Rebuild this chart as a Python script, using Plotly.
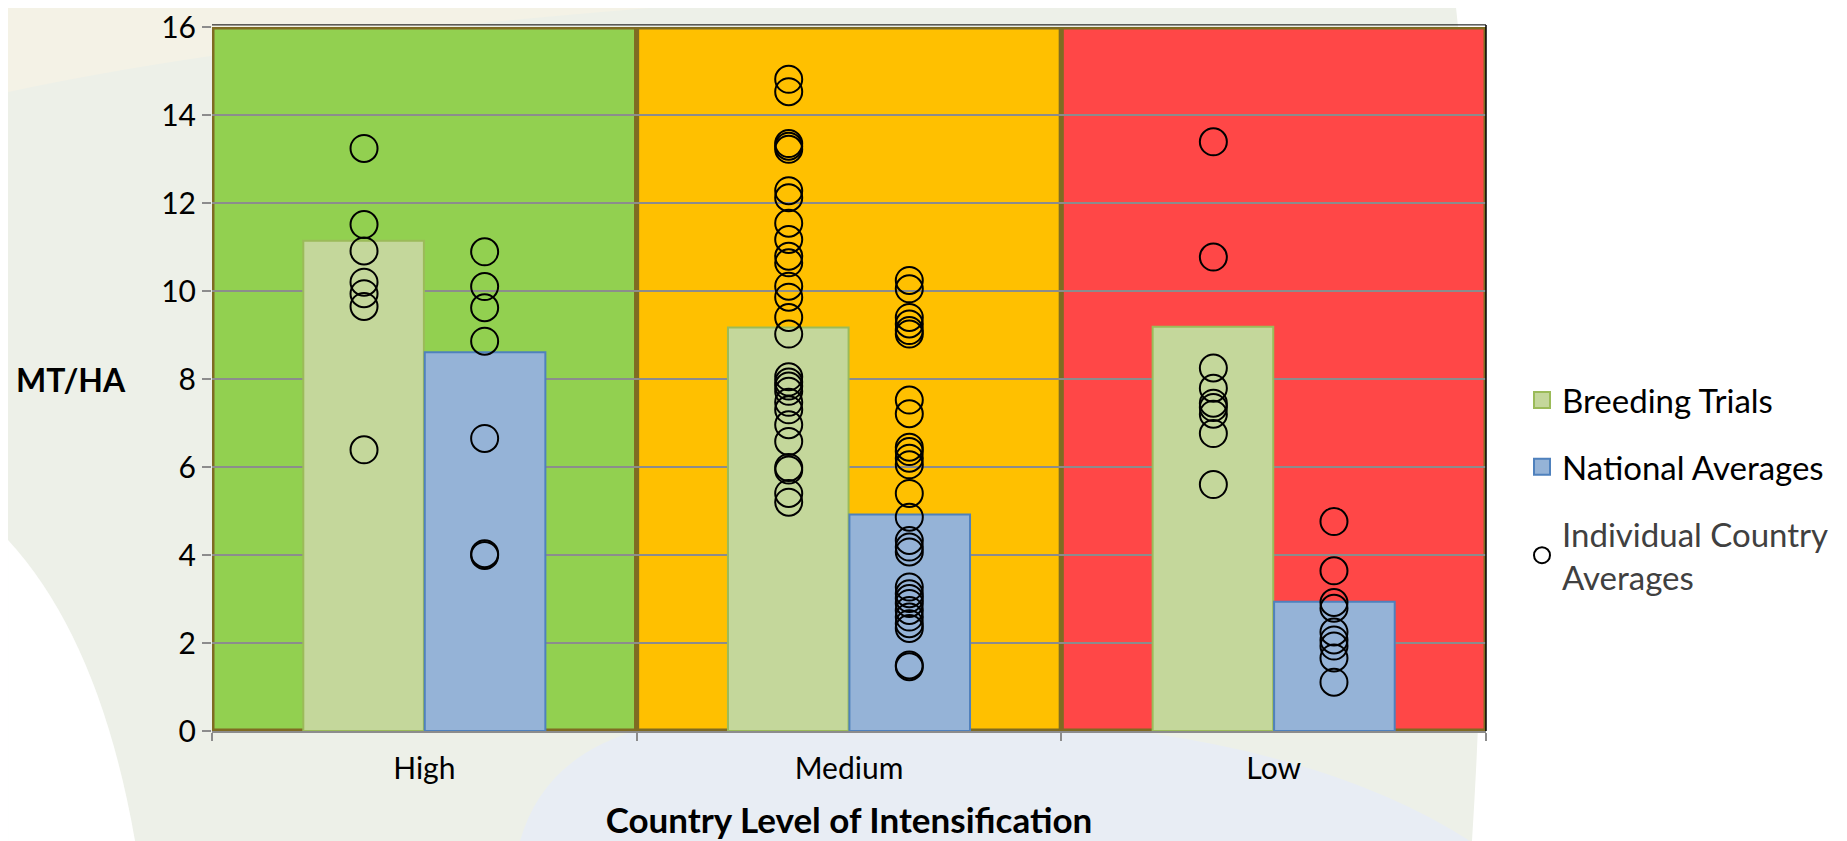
import plotly.graph_objects as go

categories = ["High", "Medium", "Low"]
band_colors = ["#92d050", "#ffc000", "#ff4747"]
breeding_avg = [11.14, 9.17, 9.19]
national_avg = [8.61, 4.92, 2.94]

breeding_points = [
    [13.24, 11.51, 10.91, 10.2, 9.94, 9.65, 6.39],
    [14.81, 14.53, 13.35, 13.29, 13.22, 12.28, 12.12, 11.54, 11.17, 10.79, 10.64,
     10.11, 9.86, 9.40, 9.02, 8.05, 7.93, 7.84, 7.72, 7.47, 7.30, 6.96, 6.58,
     5.99, 5.93, 5.40, 5.20],
    [13.39, 10.77, 8.25, 7.79, 7.45, 7.35, 7.2, 6.76, 5.6],
]
national_points = [
    [10.89, 10.1, 9.62, 8.86, 6.65, 4.03, 3.99],
    [10.24, 10.05, 9.40, 9.25, 9.10, 9.02, 7.52, 7.21, 6.45, 6.35, 6.2, 6.05,
     5.40, 4.86, 4.33, 4.18, 4.07, 3.27, 3.12, 3.01, 2.90, 2.74, 2.59, 2.44,
     2.33, 1.50, 1.46],
    [4.76, 3.64, 2.92, 2.79, 2.25, 2.07, 1.93, 1.66, 1.11],
]
y_max = 16
y_ticks = list(range(0, 17, 2))

FONT = "Lato"
BAR_W = 0.284
idx = list(range(len(categories)))

BREED_FILL, BREED_LINE = "#c4d79b", "#9bbb59"
NAT_FILL, NAT_LINE = "#95b3d7", "#4f81bd"

# page geometry in page pixels (browser body adds an 8px margin)
PL, PT, PW, PH = 212, 27, 1274, 704
FIG_W, FIG_H = 1839, 833
X_MIN, X_MAX, Y_MIN, Y_MAX = 8, 8 + FIG_W, 8, 8 + FIG_H


def px(x):
    return (min(max(x, X_MIN), X_MAX) - PL) / PW


def py(y):
    return (PT + PH - min(max(y, Y_MIN), Y_MAX)) / PH


def curve_shape(start, segments, color):
    d = f"M {px(start[0]):.4f},{py(start[1]):.4f}"
    for seg in segments:
        if len(seg) == 2:
            d += f" L {px(seg[0]):.4f},{py(seg[1]):.4f}"
        else:
            d += f" Q {px(seg[0]):.4f},{py(seg[1]):.4f} {px(seg[2]):.4f},{py(seg[3]):.4f}"
    d += " Z"
    return dict(type="path", xref="paper", yref="paper", path=d,
                fillcolor=color, line=dict(width=0), layer="below")


fig = go.Figure()

fig.add_trace(go.Bar(
    x=idx, y=breeding_avg, width=BAR_W, offset=-BAR_W - 0.001,
    name="Breeding Trials", showlegend=False,
    marker=dict(color=BREED_FILL, line=dict(color=BREED_LINE, width=2)),
))
fig.add_trace(go.Bar(
    x=idx, y=national_avg, width=BAR_W, offset=0.001,
    name="National Averages", showlegend=False,
    marker=dict(color=NAT_FILL, line=dict(color=NAT_LINE, width=2)),
))

cx, cy = [], []
for i, pts in enumerate(breeding_points):
    cx += [i - BAR_W / 2] * len(pts)
    cy += pts
for i, pts in enumerate(national_points):
    cx += [i + BAR_W / 2] * len(pts)
    cy += pts

fig.add_trace(go.Scatter(
    x=cx, y=cy, mode="markers", showlegend=False,
    marker=dict(symbol="circle-open", size=27, color="black",
                line=dict(color="black", width=2)),
))

# legend entries (larger swatches than the default bar legend icon)
fig.add_trace(go.Scatter(
    x=[None], y=[None], mode="markers", name="Breeding Trials", legendgroup="a",
    marker=dict(symbol="square", size=16, color=BREED_FILL,
                line=dict(color=BREED_LINE, width=2)),
))
fig.add_trace(go.Scatter(
    x=[None], y=[None], mode="markers", name="National Averages", legendgroup="b",
    marker=dict(symbol="square", size=16, color=NAT_FILL,
                line=dict(color=NAT_LINE, width=2)),
))
fig.add_trace(go.Scatter(
    x=[None], y=[None], mode="markers", legendgroup="c",
    name='<span style="color:#404040">Individual Country<br>Averages</span>',
    marker=dict(symbol="circle-open", size=16, color="black",
                line=dict(color="black", width=2)),
))

# faint decorative page background (all kept inside the figure)
shapes = [
    curve_shape((8, 8), [(8, 92), (250, 40, 650, 8)], "#f4f2e6"),
    curve_shape((8, 540), [(100, 640, 135, 841), (8, 841)], "#ffffff"),
    curve_shape((520, 841), [(560, 700, 800, 720), (1250, 700, 1470, 841)], "#e8edf4"),
    curve_shape((1456, 8), [(1847, 8), (1847, 841), (1472, 841),
                            (1500, 400, 1456, 8)], "#ffffff"),
]
for i, c in enumerate(band_colors):
    shapes.append(dict(type="rect", xref="x", yref="y", x0=i - 0.5, x1=i + 0.5,
                       y0=0, y1=y_max, fillcolor=c, layer="below",
                       line=dict(color="#7f6b22", width=5)))
shapes.append(dict(type="line", xref="x domain", yref="y domain", x0=1.0, x1=1.0,
                   y0=0, y1=1.003, line=dict(color="black", width=1.5)))
shapes.append(dict(type="line", xref="x domain", yref="y domain", x0=0, x1=1.0,
                   y0=1.003, y1=1.003, line=dict(color="black", width=1)))

fig.update_layout(
    width=FIG_W, height=FIG_H,
    margin=dict(l=PL - 8, r=FIG_W - (PL - 8) - PW, t=PT - 8,
                b=FIG_H - (PT - 8) - PH, autoexpand=False),
    paper_bgcolor="#edf0e8",
    plot_bgcolor="rgba(0,0,0,0)",
    barmode="overlay",
    shapes=shapes,
    font=dict(family=FONT, color="black"),
    showlegend=True,
    legend=dict(x=px(1522), y=py(372), xanchor="left", yanchor="top",
                font=dict(size=33, family=FONT, color="black"),
                bgcolor="rgba(0,0,0,0)", tracegroupgap=21, itemwidth=30),
    xaxis=dict(
        range=[-0.5, 2.5], tickvals=idx, ticktext=categories,
        tickfont=dict(size=30, family=FONT), ticks="", showgrid=False,
        zeroline=False, showline=True, linecolor="#8c8c8c", linewidth=2,
        minor=dict(tickvals=[i - 0.5 for i in idx] + [len(idx) - 0.5],
                   ticks="outside", ticklen=8, tickcolor="#8c8c8c", tickwidth=2,
                   showgrid=False),
        title=dict(text="<b>Country Level of Intensification</b>",
                   font=dict(size=35, family=FONT), standoff=24),
        ticklabelstandoff=10,
    ),
    yaxis=dict(
        range=[0, y_max], tickvals=y_ticks, tickfont=dict(size=30, family=FONT),
        ticks="outside", ticklen=9, tickcolor="#8c8c8c", tickwidth=2,
        showgrid=True, gridcolor="#8c8c8c", gridwidth=2,
        zeroline=False, showline=False, ticklabeloverflow="allow",
    ),
    annotations=[dict(text="<b>MT/HA</b>", xref="paper", yref="paper",
                      x=px(71), y=py(379), xanchor="center",
                      yanchor="middle", showarrow=False,
                      font=dict(size=32, family=FONT, color="black"))],
)

fig.write_html("out.html")
